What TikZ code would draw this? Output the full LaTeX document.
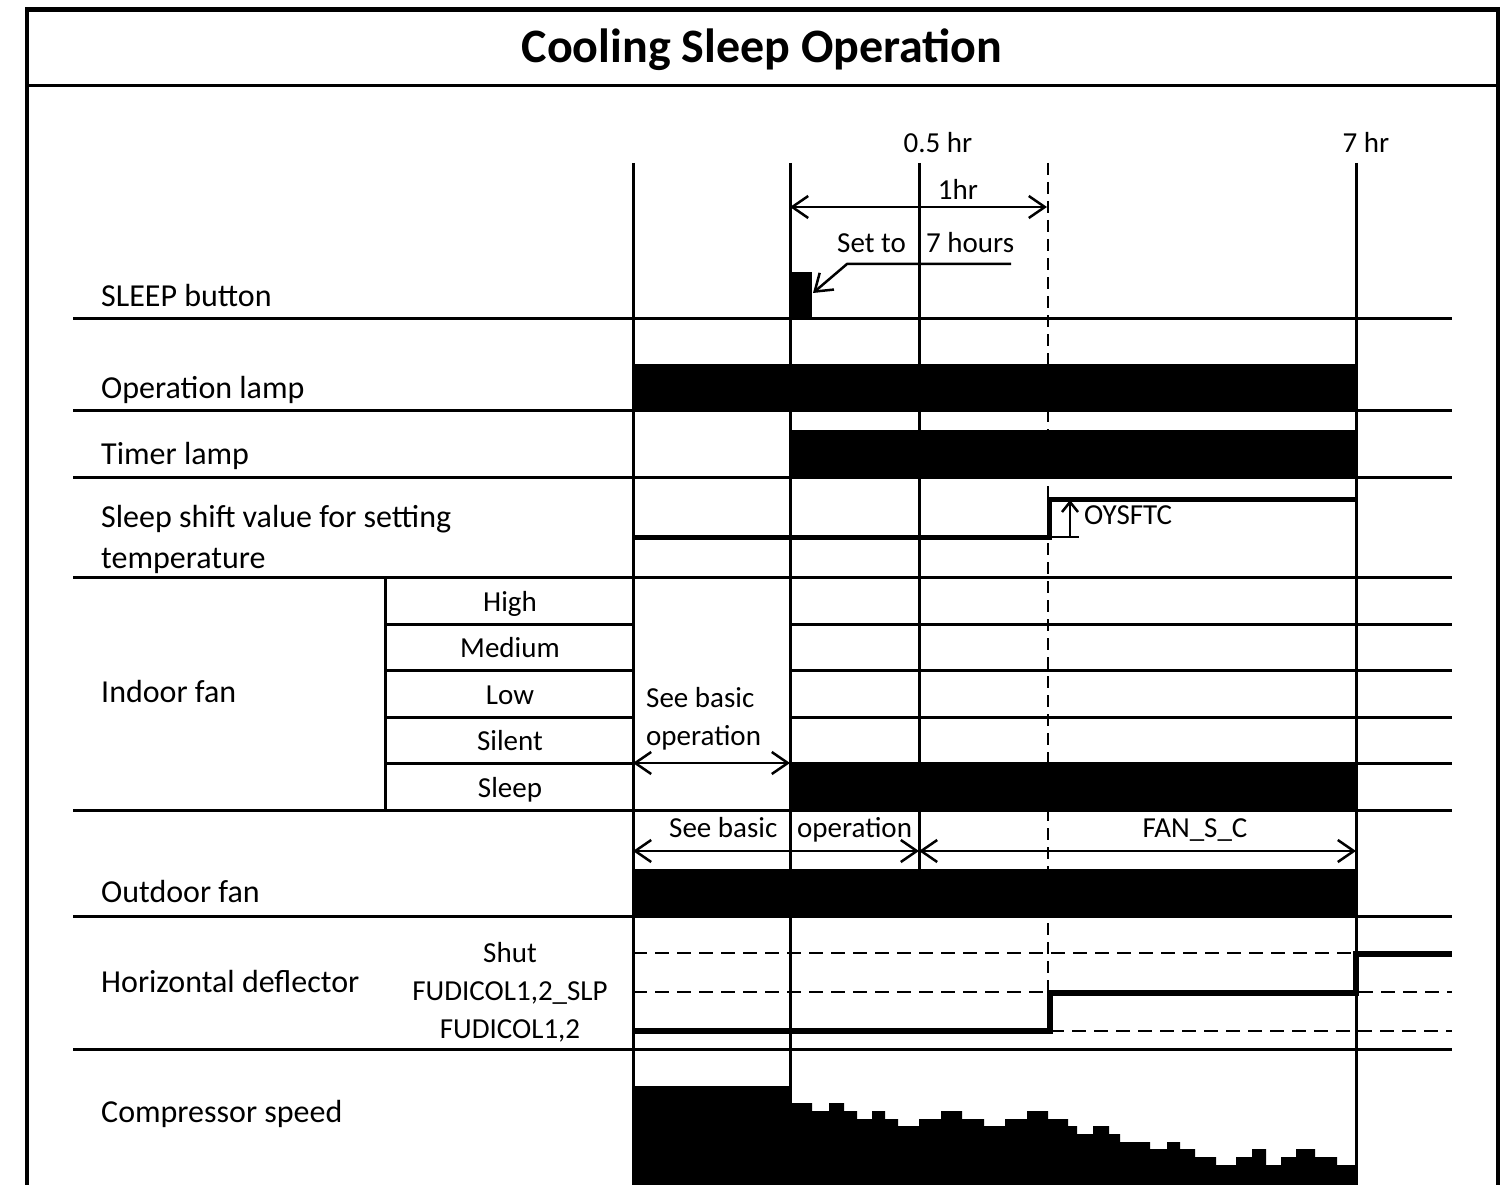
\documentclass[tikz,border=0pt]{standalone}
\usepackage{fontspec}
\setmainfont{Carlito}
\usetikzlibrary{arrows.meta}
\begin{document}
\begin{tikzpicture}[x=1pt,y=-1pt,
  frameline/.style={line width=4.5pt},
  rowline/.style={line width=3pt},
  vline/.style={line width=3pt},
  vdash/.style={line width=1.5pt, dash pattern=on 12pt off 7pt},
  hdash/.style={line width=1.5pt, dash pattern=on 14pt off 8pt},
  bar/.style={fill=black, draw=none},
  sig/.style={line width=5pt},
  barb/.tip={Straight Barb[length=16pt,width=22pt]},
  dimarrow/.style={line width=2.5pt, barb-barb},
  onearrow/.style={line width=2.5pt, -barb},
  biglbl/.style={font=\fontsize{32}{38}\selectfont, inner sep=0pt, anchor=base west},
  smllbl/.style={font=\fontsize{29}{35}\selectfont, inner sep=0pt, anchor=base},
  smlleft/.style={font=\fontsize{29}{35}\selectfont, inner sep=0pt, anchor=base west},
]
\useasboundingbox (0,0) rectangle (1505,1185);

% frame
\draw[frameline] (27,1185) -- (27,9.5) -- (1498,9.5) -- (1498,1185);
\draw[rowline] (27,85.5) -- (1498,85.5);
\node[font=\fontsize{48}{56}\selectfont\bfseries, inner sep=0pt, anchor=base] (title) at (762,63) {Cooling Sleep Operation};

% bars (behind lines)
\fill[bar] (790,272) rectangle (812,318);
\fill[bar] (633,364) rectangle (1356,410);
\fill[bar] (790,430) rectangle (1356,477);
\fill[bar] (790,763) rectangle (1356,810);
\fill[bar] (633,869) rectangle (1356,916);
\fill[bar] (633,1185) -- (633,1086) -- (790,1086) |- (812,1103) |- (829,1111) |- (844,1103)
  |- (857,1111) |- (872,1119) |- (885,1111) |- (898,1119) |- (919,1126) |- (941,1119)
  |- (962,1111) |- (984,1119) |- (1005,1126) |- (1027,1119) |- (1048,1111) |- (1068,1119)
  |- (1077,1126) |- (1093,1134) |- (1109,1126) |- (1120,1134) |- (1150,1142) |- (1167,1149)
  |- (1180,1142) |- (1195,1149) |- (1216,1157) |- (1236,1165) |- (1252,1157) |- (1266,1149)
  |- (1281,1165) |- (1296,1157) |- (1315,1149) |- (1337,1157) |- (1356,1165) -- (1356,1185) -- cycle;

% row lines
\foreach \yy in {318,410,477,577,810,916,1049}
  \draw[rowline] (73,\yy) -- (1452,\yy);
\foreach \yy in {624,670,717,763}{
  \draw[rowline] (385,\yy) -- (633,\yy);
  \draw[rowline] (790,\yy) -- (1452,\yy);
}
\draw[rowline] (385,577) -- (385,810);

% time lines
\draw[vline] (633,163) -- (633,1185);
\draw[vline] (790,163) -- (790,1185);
\draw[vline] (919,163) -- (919,916);
\draw[vline] (1356,163) -- (1356,1185);
\draw[vdash] (1048,163) -- (1048,992);

% top labels
\node[smllbl] (t05) at (938,153) {0.5 hr};
\node[smllbl] (t7) at (1366,153) {7 hr};
\node[smllbl] (t1) at (958,200) {1hr};
\coordinate (h1a) at (790,207);
\coordinate (h1b) at (1047,207);
\draw[dimarrow] (h1a) -- (h1b);
\node[smlleft] (setto) at (837,253) {Set to};
\node[smlleft] (sevenh) at (926,253) {7 hours};
\coordinate (ld1) at (1011,264);
\coordinate (ld2) at (847,264);
\coordinate (ld3) at (813,293);
\draw[onearrow] (ld1) -- (ld2) -- (ld3);

% left labels
\node[biglbl] (l1) at (101,306) {SLEEP button};
\node[biglbl] (l2) at (101,398) {Operation lamp};
\node[biglbl] (l3) at (101,464) {Timer lamp};
\node[biglbl] (l4) at (101,527) {Sleep shift value for setting};
\node[biglbl] (l4b) at (101,568) {temperature};
\node[biglbl] (l5) at (101,702) {Indoor fan};
\node[biglbl] (l6) at (101,902) {Outdoor fan};
\node[biglbl] (l7) at (101,992) {Horizontal deflector};
\node[biglbl] (l8) at (101,1122) {Compressor speed};

% indoor fan sub labels
\node[smllbl] (f1) at (510,611) {High};
\node[smllbl] (f2) at (510,657) {Medium};
\node[smllbl] (f3) at (510,704) {Low};
\node[smllbl] (f4) at (510,750) {Silent};
\node[smllbl] (f5) at (510,797) {Sleep};

% deflector sub labels
\node[smllbl] (d1) at (510,962) {Shut};
\node[smllbl] (d2) at (510,1000) {FUDICOL1,2\_SLP};
\node[smllbl] (d3) at (510,1038) {FUDICOL1,2};

% sleep shift signal
\draw[sig] (633,537) -- (1049,537) -- (1049,499) -- (1356,499);
\coordinate (oy1) at (1070,537);
\coordinate (oy2) at (1070,500);
\draw[line width=2.5pt, -{Straight Barb[length=10pt,width=16pt]}] (oy1) -- (oy2);
\draw[line width=2.5pt] (1049,537) -- (1079,537);
\node[smlleft] (oysftc) at (1084,524) {OYSFTC};

% indoor fan see basic
\node[smlleft] (sb1) at (646,707) {See basic};
\node[smlleft] (sb2) at (646,745) {operation};
\coordinate (ia) at (633,763);
\coordinate (ib) at (790,763);
\draw[dimarrow] (ia) -- (ib);

% outdoor fan
\node[smlleft] (sb3) at (669,837) {See basic};
\node[smlleft] (sb4) at (797,837) {operation};
\node[smllbl] (fansc) at (1195,837) {FAN\_S\_C};
\coordinate (oa) at (633,851);
\coordinate (ob) at (919,851);
\coordinate (oc) at (1356,851);
\draw[dimarrow] (oa) -- (ob);
\draw[dimarrow] (ob) -- (oc);

% horizontal deflector
\draw[hdash] (633,953) -- (1356,953);
\draw[hdash] (633,992) -- (1452,992);
\draw[hdash] (1050,1031) -- (1452,1031);
\draw[line width=6pt] (633,1031) -- (1050,1031) -- (1050,993) -- (1356,993) -- (1356,954) -- (1452,954);

\end{tikzpicture}
\end{document}
